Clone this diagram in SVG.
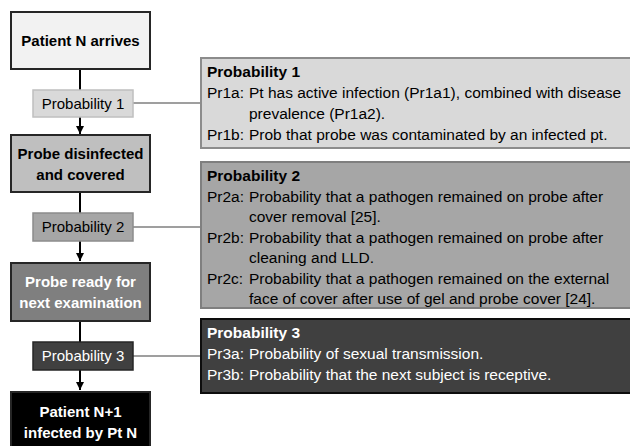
<svg xmlns="http://www.w3.org/2000/svg" width="630" height="446" viewBox="0 0 630 446">
<defs>
<marker id="ah" viewBox="0 0 10 10" refX="10" refY="5" markerWidth="4" markerHeight="4" orient="auto" markerUnits="strokeWidth">
<path d="M0,0 L10,5 L0,10 z" fill="#000"/>
</marker>
<style>
text{font-family:"Liberation Sans",Arial,sans-serif;}
.main{stroke:#262626;stroke-width:2;}
.mt{font-size:15px;font-weight:bold;text-anchor:middle;}
.pt{font-size:15px;text-anchor:middle;}
.bt{font-size:15.5px;}
.hd{font-weight:bold;}
.w{fill:#fff;}
.k{fill:#000;}
.flow{stroke:#000;stroke-width:2;fill:none;}
.link{stroke:#404040;stroke-width:1.2;fill:none;}
</style>
</defs>
<rect width="630" height="446" fill="#fff"/>

<g id="connectors">
<line class="flow" x1="80" y1="69" x2="80" y2="90"/>
<line class="flow" x1="80" y1="117" x2="80" y2="134" marker-end="url(#ah)"/>
<line class="flow" x1="80" y1="192" x2="80" y2="213"/>
<line class="flow" x1="80" y1="241" x2="80" y2="261" marker-end="url(#ah)"/>
<line class="flow" x1="80" y1="321" x2="80" y2="342"/>
<line class="flow" x1="80" y1="370" x2="80" y2="390" marker-end="url(#ah)"/>
<line class="link" x1="133" y1="103" x2="201" y2="103"/>
<line class="link" x1="133" y1="227" x2="201" y2="227"/>
<line class="link" x1="133" y1="356" x2="201" y2="356"/>
</g>

<g id="n_patient_n">
<rect class="main" x="11" y="12" width="139" height="57" fill="#f2f2f2"/>
<text class="mt k" x="80.5" y="46">Patient N arrives</text>
</g>

<g id="p1">
<rect x="33" y="90" width="100" height="27" fill="#d9d9d9" stroke="#bfbfbf" stroke-width="1.5"/>
<text class="pt k" x="83" y="109">Probability 1</text>
</g>

<g id="n_probe_disinfected">
<rect class="main" x="11" y="135" width="139" height="57" fill="#bfbfbf"/>
<text class="mt k" x="80.5" y="159">Probe disinfected</text>
<text class="mt k" x="80.5" y="180">and covered</text>
</g>

<g id="p2">
<rect x="33" y="213" width="100" height="28" fill="#a6a6a6" stroke="#8c8c8c" stroke-width="1.5"/>
<text class="pt k" x="83" y="232">Probability 2</text>
</g>

<g id="n_probe_ready">
<rect class="main" x="11" y="263" width="139" height="58" fill="#7f7f7f"/>
<text class="mt w" x="80.5" y="287">Probe ready for</text>
<text class="mt w" x="80.5" y="308">next examination</text>
</g>

<g id="p3">
<rect x="33" y="342" width="100" height="28" fill="#404040" stroke="#262626" stroke-width="1.5"/>
<text class="pt w" x="83" y="361">Probability 3</text>
</g>

<g id="n_patient_n1">
<rect class="main" x="11" y="392" width="139" height="56" fill="#000"/>
<text class="mt w" x="80.5" y="417">Patient N+1</text>
<text class="mt w" x="80.5" y="438">infected by Pt N</text>
</g>

<g id="panel1">
<rect x="201" y="58" width="430" height="90" fill="#d9d9d9" stroke="#8c8c8c" stroke-width="2"/>
<text class="bt k" x="207" y="77"><tspan class="hd">Probability 1</tspan></text>
<text class="bt k" x="207" y="98">Pr1a:</text>
<text class="bt k" x="249" y="98">Pt has active infection (Pr1a1), combined with disease</text>
<text class="bt k" x="249" y="119">prevalence (Pr1a2).</text>
<text class="bt k" x="207" y="140">Pr1b:</text>
<text class="bt k" x="249" y="140">Prob that probe was contaminated by an infected pt.</text>
</g>

<g id="panel2">
<rect x="201" y="162" width="430" height="146" fill="#a6a6a6" stroke="#7f7f7f" stroke-width="2"/>
<text class="bt k" x="207" y="181"><tspan class="hd">Probability 2</tspan></text>
<text class="bt k" x="207" y="201.5">Pr2a:</text>
<text class="bt k" x="249" y="201.5">Probability that a pathogen remained on probe after</text>
<text class="bt k" x="249" y="222">cover removal [25].</text>
<text class="bt k" x="207" y="242.5">Pr2b:</text>
<text class="bt k" x="249" y="242.5">Probability that a pathogen remained on probe after</text>
<text class="bt k" x="249" y="263">cleaning and LLD.</text>
<text class="bt k" x="207" y="283.5">Pr2c:</text>
<text class="bt k" x="249" y="283.5">Probability that a pathogen remained on the external</text>
<text class="bt k" x="249" y="304">face of cover after use of gel and probe cover [24].</text>
</g>

<g id="panel3">
<rect x="201" y="319" width="430" height="74" fill="#404040" stroke="#0d0d0d" stroke-width="2"/>
<text class="bt w" x="207" y="338"><tspan class="hd">Probability 3</tspan></text>
<text class="bt w" x="207" y="359">Pr3a:</text>
<text class="bt w" x="249" y="359">Probability of sexual transmission.</text>
<text class="bt w" x="207" y="380">Pr3b:</text>
<text class="bt w" x="249" y="380">Probability that the next subject is receptive.</text>
</g>
</svg>
